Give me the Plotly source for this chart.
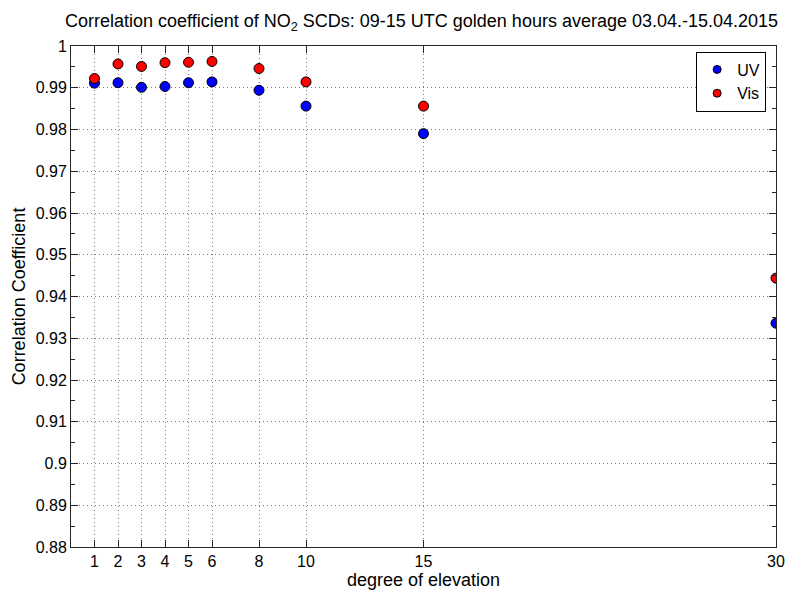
import plotly.graph_objects as go

# Elevation angles (degrees) and correlation coefficients per spectral range
elevation = [1, 2, 3, 4, 5, 6, 8, 10, 15, 30]
corr_uv = [0.9911, 0.9912, 0.9901, 0.9903, 0.9912, 0.9914, 0.9894, 0.9856, 0.9790, 0.9336]
corr_vis = [0.9922, 0.9957, 0.9951, 0.9960, 0.9961, 0.9963, 0.9946, 0.9914, 0.9856, 0.9444]

series_names = ["UV", "Vis"]
series_colors = ["#0000ff", "#ff0000"]

x_ticks = [1, 2, 3, 4, 5, 6, 8, 10, 15, 30]
y_ticks = [0.88, 0.89, 0.9, 0.91, 0.92, 0.93, 0.94, 0.95, 0.96, 0.97, 0.98, 0.99, 1]
y_labels = ["0.88", "0.89", "0.9", "0.91", "0.92", "0.93", "0.94", "0.95",
            "0.96", "0.97", "0.98", "0.99", "1"]

FONT = "Liberation Sans, Arial, sans-serif"

fig = go.Figure()
for name, color, values in zip(series_names, series_colors, [corr_uv, corr_vis]):
    # data markers
    fig.add_trace(go.Scatter(
        x=elevation, y=values, mode="markers", name=name, showlegend=False,
        marker=dict(color=color, size=10, line=dict(color="black", width=1)),
    ))
    # smaller legend symbol
    fig.add_trace(go.Scatter(
        x=[None], y=[None], mode="markers", name=name,
        marker=dict(color=color, size=8, line=dict(color="black", width=1)),
    ))

axis_common = dict(
    showline=True, linecolor="#262626", linewidth=1, mirror="ticks",
    ticks="inside", ticklen=7, tickcolor="#262626",
    showgrid=True, gridcolor="#7a7a7a", griddash="1px,3px", gridwidth=1,
    zeroline=False, automargin=False,
    tickfont=dict(family=FONT, size=16, color="black"),
)

fig.update_xaxes(
    range=[0, 30], tickmode="array", tickvals=x_ticks,
    title=dict(text="degree of elevation", font=dict(family=FONT, size=18, color="black"),
               standoff=6),
    **axis_common,
)
fig.update_yaxes(
    range=[0.88, 1.0], tickmode="array", tickvals=y_ticks, ticktext=y_labels,
    minor=dict(ticks="inside", ticklen=4, tickcolor="#262626", dtick=0.005,
               tick0=0.88, showgrid=False),
    title=dict(text="Correlation Coefficient", font=dict(family=FONT, size=18, color="black"),
               standoff=5),
    **axis_common,
)

fig.update_layout(
    width=785, height=590,
    margin=dict(l=71, r=9, t=46, b=43),
    paper_bgcolor="white", plot_bgcolor="white",
    title=dict(
        text="Correlation coefficient of NO<sub>2</sub> SCDs: 09-15 UTC golden hours average 03.04.-15.04.2015",
        font=dict(family=FONT, size=18, color="black"),
        x=0.537, xanchor="center", y=0.965, yanchor="middle",
    ),
    legend=dict(
        x=0.986, y=0.989, xanchor="right", yanchor="top",
        bgcolor="white", bordercolor="black", borderwidth=1,
        font=dict(family=FONT, size=16, color="black"),
        itemwidth=30, tracegroupgap=0,
    ),
    showlegend=True,
)

fig.write_html("out.html")
